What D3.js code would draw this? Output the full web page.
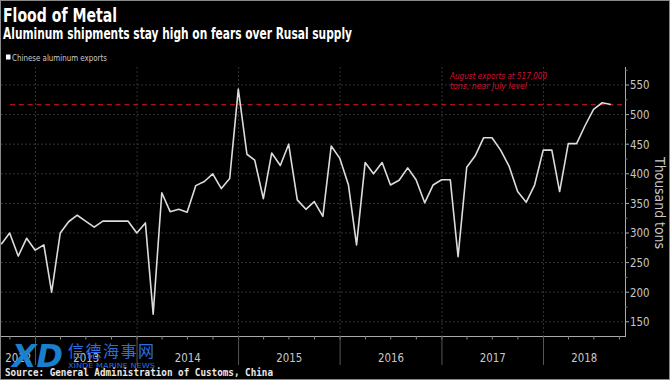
<!DOCTYPE html>
<html>
<head>
<meta charset="utf-8">
<script src="https://cdn.jsdelivr.net/npm/d3@7"></script>
<style>
  html, body { margin: 0; padding: 0; background: #000; }
  svg { display: block; }
</style>
</head>
<body>
<svg id="chart" width="670" height="380"></svg>
<script>
// ---- data (thousand tons, month-end values) ----
const firstMonth = "2012-08";
const lastMonth = "2018-08";
const exportsValues = [
  281, 300, 261, 291, 271,                                   // 2012 Aug-Dec
  280, 200, 300, 319, 330, 320, 310, 320, 320, 320, 320, 300, // 2013
  317, 163, 368, 336, 340, 335, 380, 387, 400, 375, 392, 543, // 2014
  433, 423, 358, 435, 414, 450, 356, 340, 353, 328, 447, 426, // 2015
  381, 280, 419, 400, 419, 381, 389, 410, 390, 351, 381, 390, // 2016
  390, 260, 411, 430, 461, 461, 440, 412, 370, 352, 381, 440, // 2017
  440, 370, 451, 451, 482, 509, 520, 517                      // 2018 Jan-Aug
];
const yearLabels = ["2012", "2013", "2014", "2015", "2016", "2017", "2018"];
const yTicks = [150, 200, 250, 300, 350, 400, 450, 500, 550];
const yMinorTicks = [175, 225, 275, 325, 375, 425, 475, 525, 575];
const referenceLevel = [517];
const titleText = "Flood of Metal";
const subtitleText = "Aluminum shipments stay high on fears over Rusal supply";
const legendText = "Chinese aluminum exports";
const annotationLines = ["August exports at 517,000", "tons, near July level"];
const sourceText = "Source: General Administration of Customs, China";
const yAxisTitle = "Thousand tons";

// ---- build series ----
const parseM = d3.timeParse("%Y-%m");
const m0 = parseM(firstMonth), m1 = parseM(lastMonth);
const monthStarts = d3.timeMonth.range(m0, d3.timeMonth.offset(m1, 1));
const series = monthStarts.map((d, i) => ({
  date: new Date(d.getFullYear(), d.getMonth() + 1, 0),
  value: exportsValues[i]
}));

// ---- layout ----
const svg = d3.select("#chart");
const W = 670, H = 380;
const plot = { left: 1, right: 625, top: 67, bottom: 336 };

const x = d3.scaleTime()
  .domain([new Date(2012, 7, 30), new Date(2018, 9, 21)])
  .range([plot.left, plot.right]);
const y = d3.scaleLinear()
  .domain([126, 580.4])
  .range([plot.bottom, plot.top]);

svg.append("rect").attr("width", W).attr("height", H).attr("fill", "#000");

const font = "'DejaVu Sans', 'Liberation Sans', sans-serif";

// titles
svg.append("text").attr("x", 3).attr("y", 22)
  .attr("fill", "#fff").attr("font-family", font).attr("font-weight", "bold")
  .attr("font-size", 20).attr("textLength", 114).attr("lengthAdjust", "spacingAndGlyphs")
  .text(titleText);
svg.append("text").attr("x", 3).attr("y", 39)
  .attr("fill", "#fff").attr("font-family", font).attr("font-weight", "bold")
  .attr("font-size", 16.5).attr("textLength", 349).attr("lengthAdjust", "spacingAndGlyphs")
  .text(subtitleText);

// legend
svg.append("rect").attr("x", 6).attr("y", 54.5).attr("width", 4.5).attr("height", 5)
  .attr("fill", "#fff");
svg.append("text").attr("x", 12).attr("y", 61)
  .attr("fill", "#ccc").attr("font-family", font).attr("font-size", 9.5)
  .attr("textLength", 95).attr("lengthAdjust", "spacingAndGlyphs")
  .text(legendText);

// horizontal grid
const g = svg.append("g");
g.selectAll("line.hg").data(yTicks).join("line")
  .attr("x1", plot.left).attr("x2", plot.right)
  .attr("y1", d => y(d)).attr("y2", d => y(d))
  .attr("stroke", "#333").attr("stroke-width", 1).attr("stroke-dasharray", "2,2");

// vertical year grid
const yearStarts = d3.timeYear.range(new Date(2013, 0, 1), new Date(2018, 0, 2));
g.selectAll("line.vg").data(yearStarts).join("line")
  .attr("x1", d => x(d)).attr("x2", d => x(d))
  .attr("y1", plot.top).attr("y2", plot.bottom)
  .attr("stroke", "#333").attr("stroke-width", 1).attr("stroke-dasharray", "2,2");

// reference dashed line
svg.selectAll("line.ref").data(referenceLevel).join("line")
  .attr("x1", 10).attr("x2", 622)
  .attr("y1", d => y(d)).attr("y2", d => y(d))
  .attr("stroke", "#b01018").attr("stroke-width", 1.3).attr("stroke-dasharray", "5,3.8");

// annotation
annotationLines.forEach((t, i) => {
  svg.append("text").attr("x", 450).attr("y", 79 + i * 10)
    .attr("fill", "#d01035").attr("font-family", font).attr("font-style", "italic")
    .attr("font-size", 9.5)
    .attr("textLength", i === 0 ? 97 : 77).attr("lengthAdjust", "spacingAndGlyphs")
    .text(t);
});

// data line
const line = d3.line().x(d => x(d.date)).y(d => y(d.value));
svg.append("path").datum(series)
  .attr("d", line).attr("fill", "none")
  .attr("stroke", "#dcdcdc").attr("stroke-width", 1.6).attr("stroke-linejoin", "round");

// bottom axis
const axisColor = "#aaa";
svg.append("line").attr("x1", plot.left).attr("x2", plot.right)
  .attr("y1", plot.bottom + 0.5).attr("y2", plot.bottom + 0.5)
  .attr("stroke", axisColor).attr("stroke-width", 1);
const quarters = d3.timeMonth.every(3).range(new Date(2012, 9, 1), new Date(2018, 9, 2));
svg.selectAll("line.qt").data(quarters).join("line")
  .attr("x1", d => x(d)).attr("x2", d => x(d))
  .attr("y1", plot.bottom).attr("y2", plot.bottom + 3.5)
  .attr("stroke", "#888").attr("stroke-width", 1);
svg.selectAll("line.ysep").data(yearStarts).join("line")
  .attr("x1", d => x(d)).attr("x2", d => x(d))
  .attr("y1", plot.bottom).attr("y2", 365)
  .attr("stroke", "#555").attr("stroke-width", 1);

// year labels centered in visible year span
yearLabels.forEach(lbl => {
  const yr = +lbl;
  const a = Math.max(x(new Date(yr, 0, 1)), plot.left);
  const b = Math.min(x(new Date(yr + 1, 0, 1)), plot.right);
  svg.append("text").attr("x", (a + b) / 2 - 13).attr("y", 361.5)
    .attr("fill", "#c8c8c8").attr("font-family", font).attr("font-size", 13)
    .attr("textLength", 26).attr("lengthAdjust", "spacingAndGlyphs")
    .text(lbl);
});

// right axis
svg.append("line").attr("x1", plot.right + 0.5).attr("x2", plot.right + 0.5)
  .attr("y1", plot.top).attr("y2", plot.bottom + 1)
  .attr("stroke", axisColor).attr("stroke-width", 1);
svg.selectAll("line.yt").data(yTicks).join("line")
  .attr("x1", plot.right).attr("x2", plot.right + 4)
  .attr("y1", d => y(d)).attr("y2", d => y(d))
  .attr("stroke", axisColor);
svg.selectAll("line.ymt").data(yMinorTicks).join("line")
  .attr("x1", plot.right).attr("x2", plot.right + 2.5)
  .attr("y1", d => y(d)).attr("y2", d => y(d))
  .attr("stroke", "#777");
svg.selectAll("text.yl").data(yTicks).join("text")
  .attr("x", 630).attr("y", d => y(d) + 4.5)
  .attr("fill", "#c8c8c8").attr("font-family", font).attr("font-size", 12.5)
  .attr("textLength", 19.5).attr("lengthAdjust", "spacingAndGlyphs")
  .text(d => d);
svg.append("text")
  .attr("transform", "translate(655,203) rotate(90)")
  .attr("text-anchor", "middle")
  .attr("fill", "#c8c8c8").attr("font-family", font).attr("font-size", 14)
  .attr("textLength", 92).attr("lengthAdjust", "spacingAndGlyphs")
  .text(yAxisTitle);

// watermark (as in the reference picture)
svg.append("text").attr("x", 12).attr("y", 367)
  .attr("fill", "#1c86d8").attr("font-family", font).attr("font-weight", "bold")
  .attr("font-style", "italic").attr("font-size", 32)
  .attr("textLength", 51).attr("lengthAdjust", "spacingAndGlyphs")
  .attr("opacity", 0.95)
  .text("XD");
svg.append("text").attr("x", 68).attr("y", 357)
  .attr("fill", "#2a6ee0").attr("font-family", "'Noto Sans CJK SC', sans-serif")
  .attr("font-size", 16).attr("textLength", 86).attr("lengthAdjust", "spacing")
  .text("信德海事网");
svg.append("text").attr("x", 68).attr("y", 367.5)
  .attr("fill", "#2a6ee0").attr("font-family", font).attr("font-size", 7)
  .attr("textLength", 87).attr("lengthAdjust", "spacingAndGlyphs")
  .text("XINDE MARINE NEWS");

// source
svg.append("text").attr("x", 5).attr("y", 376)
  .attr("fill", "#e8e8e8").attr("font-family", "'DejaVu Sans Mono', monospace")
  .attr("font-weight", "bold").attr("font-size", 10.5)
  .attr("textLength", 268).attr("lengthAdjust", "spacingAndGlyphs")
  .text(sourceText);

// outer border
svg.append("rect").attr("x", 0.5).attr("y", 0.5).attr("width", W - 1).attr("height", H - 1)
  .attr("fill", "none").attr("stroke", "#888").attr("stroke-width", 1);
</script>
</body>
</html>
